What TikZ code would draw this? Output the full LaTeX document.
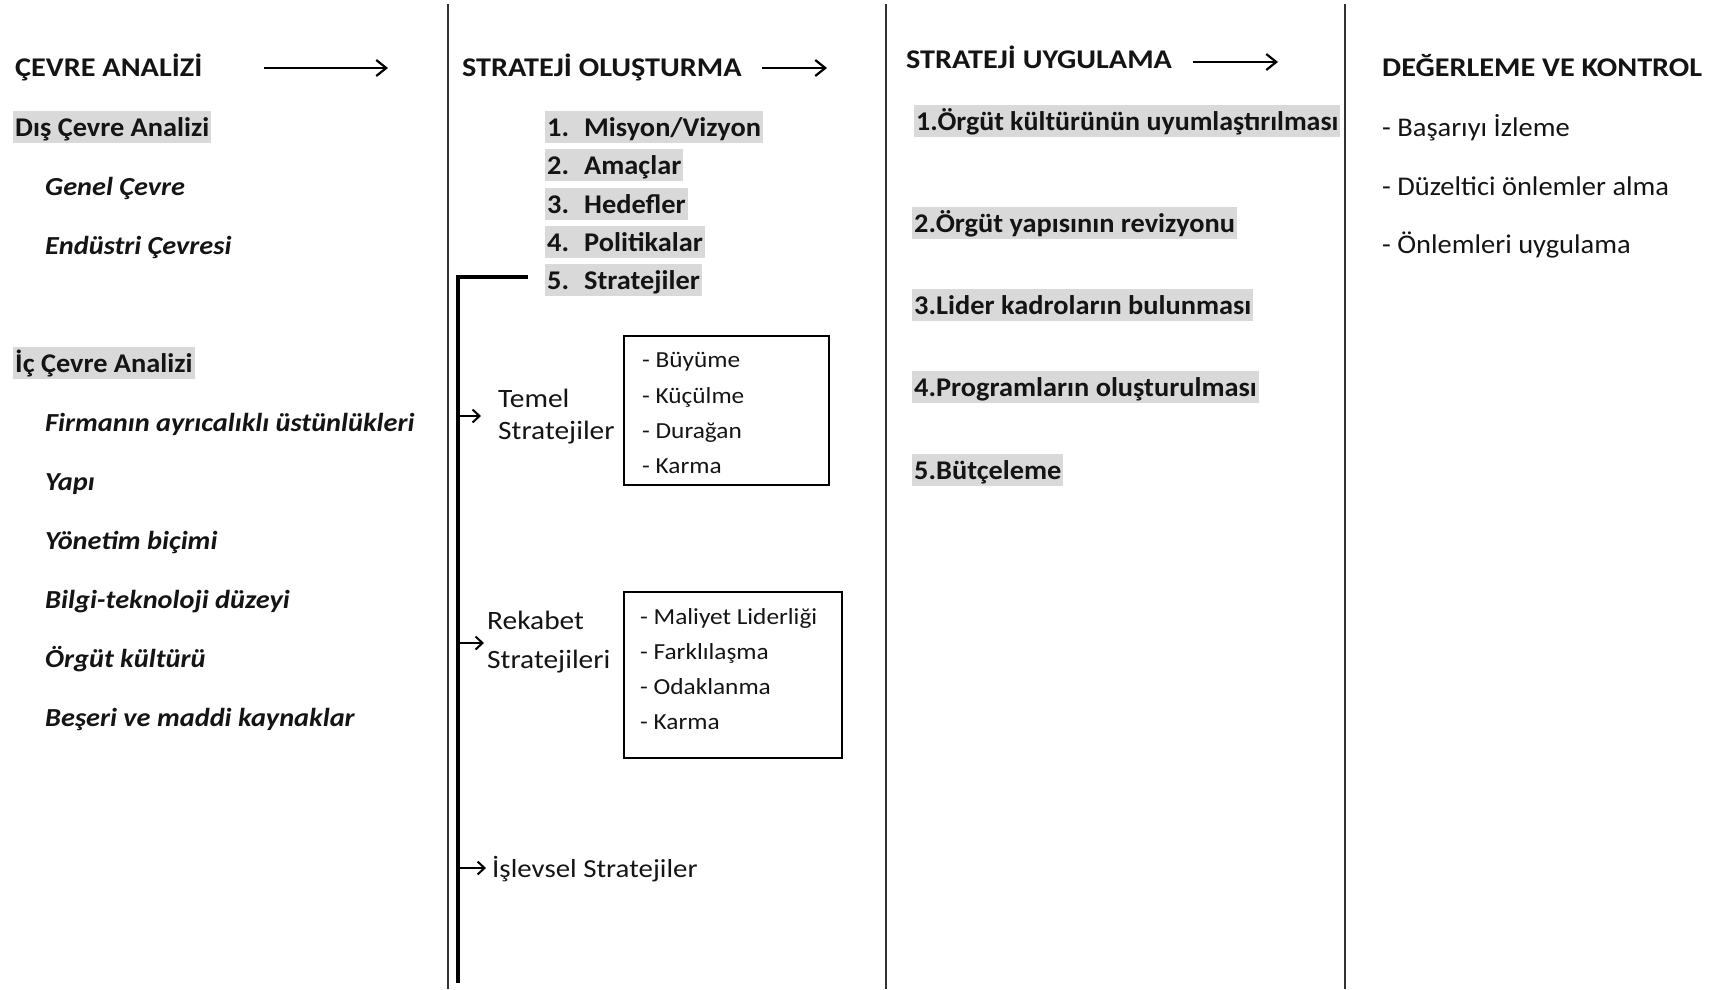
\documentclass[tikz,border=0pt]{standalone}
\usepackage{fontspec}
\setmainfont{Carlito}
% slightly widened faces, one per text role
\newfontfamily\fHead[FakeStretch=1.12]{Carlito}
\newfontfamily\fHl[FakeStretch=1.05]{Carlito}
\newfontfamily\fHlTight[FakeStretch=1.035]{Carlito}
\newfontfamily\fSub[FakeStretch=1.09]{Carlito}
\newfontfamily\fPlain[FakeStretch=1.055]{Carlito}
\newfontfamily\fBox[FakeStretch=1.10]{Carlito}
\newfontfamily\fLab[FakeStretch=1.11]{Carlito}
\usetikzlibrary{arrows.meta}
\definecolor{hl}{RGB}{217,217,217}
\definecolor{rulecol}{RGB}{50,50,50}
\definecolor{txt}{RGB}{20,20,20}

\begin{document}
\begin{tikzpicture}[x=1pt,y=-1pt,
  head/.style={anchor=base west, inner sep=0pt, text=txt, font=\fontsize{27}{32}\fHead\bfseries},
  hlitem/.style={anchor=base west, fill=hl, inner xsep=2pt, inner ysep=0pt,
    text height=25pt, text depth=7pt, text=txt, font=\fontsize{27}{32}\fHl\bfseries},
  subitem/.style={anchor=base west, inner sep=0pt, text=txt, font=\fontsize{26}{30}\fSub\bfseries\itshape},
  plain/.style={anchor=base west, inner sep=0pt, text=txt, font=\fontsize{27}{32}\fPlain},
  label/.style={anchor=base west, inner sep=0pt, text=txt, font=\fontsize{26.5}{30}\fLab},
  boxitem/.style={anchor=base west, inner sep=0pt, text=txt, font=\fontsize{23}{28}\fBox},
  flow/.style={-{Straight Barb[length=10pt,width=16pt,line width=2.2pt]}, line width=2.5pt},
  tick/.style={-{Straight Barb[length=7pt,width=13pt,line width=2pt]}, line width=2pt},
  sep/.style={line width=2pt, draw=rulecol},
  listbox/.style={draw, line width=1.6pt, inner sep=0pt}
]
\useasboundingbox (0,0) rectangle (1715,989);

% column separators
\coordinate (s1t) at (448,4);   \coordinate (s1b) at (448,989);
\coordinate (s2t) at (886,4);   \coordinate (s2b) at (886,989);
\coordinate (s3t) at (1345,4);  \coordinate (s3b) at (1345,989);
\draw[sep] (s1t) -- (s1b);
\draw[sep] (s2t) -- (s2b);
\draw[sep] (s3t) -- (s3b);

% ---- column 1: environment analysis
\node[head] (h1) at (15,76) {ÇEVRE ANALİZİ};
\coordinate (a1s) at (264,68); \coordinate (a1e) at (388,68);
\draw[flow] (a1s) -- (a1e);

\node[hlitem] (dis) at (13,136) {Dış Çevre Analizi};
\node[subitem] (genel) at (45,195) {Genel Çevre};
\node[subitem] (endustri) at (45,254) {Endüstri Çevresi};

\node[hlitem] (ic) at (13,372) {İç Çevre Analizi};
\node[subitem] (firma) at (45,431) {Firmanın ayrıcalıklı üstünlükleri};
\node[subitem] (yapi) at (45,490) {Yapı};
\node[subitem] (yonetim) at (45,549) {Yönetim biçimi};
\node[subitem] (bilgi) at (45,608) {Bilgi-teknoloji düzeyi};
\node[subitem] (orgut) at (45,667) {Örgüt kültürü};
\node[subitem] (beseri) at (45,726) {Beşeri ve maddi kaynaklar};

% ---- column 2: strategy formulation
\node[head] (h2) at (462,76) {STRATEJİ OLUŞTURMA};
\coordinate (a2s) at (762,68); \coordinate (a2e) at (827,68);
\draw[flow] (a2s) -- (a2e);

\node[hlitem] (l1) at (545,136) {\makebox[37pt][l]{1.}Misyon/Vizyon};
\node[hlitem] (l2) at (545,174) {\makebox[37pt][l]{2.}Amaçlar};
\node[hlitem] (l3) at (545,213) {\makebox[37pt][l]{3.}Hedefler};
\node[hlitem] (l4) at (545,251) {\makebox[37pt][l]{4.}Politikalar};
\node[hlitem] (l5) at (545,289) {\makebox[37pt][l]{5.}Stratejiler};

% bracket collecting the strategy levels
\coordinate (btop) at (528,277);
\coordinate (bcorner) at (458,277);
\coordinate (bbot) at (458,983);
\draw[line width=4pt] (btop) -- (bcorner) -- (bbot);

% basic strategies
\node[label] (temel1) at (498,407) {Temel};
\node[label] (temel2) at (498,439) {Stratejiler};
\coordinate (b1) at (458,416); \coordinate (t1) at (481,416);
\draw[tick] (b1) -- (t1);
\node[listbox, minimum width=205pt, minimum height=149pt] (tbox) at (726.5,410.5) {};
\node[boxitem] at (642,367) {- Büyüme};
\node[boxitem] at (642,403) {- Küçülme};
\node[boxitem] at (642,438) {- Durağan};
\node[boxitem] at (642,473) {- Karma};

% competitive strategies
\node[label] (rek1) at (487,629) {Rekabet};
\node[label] (rek2) at (487,668) {Stratejileri};
\coordinate (b2) at (458,643); \coordinate (t2) at (484,643);
\draw[tick] (b2) -- (t2);
\node[listbox, minimum width=218pt, minimum height=166pt] (rbox) at (733,675) {};
\node[boxitem] at (640,624) {- Maliyet Liderliği};
\node[boxitem] at (640,659) {- Farklılaşma};
\node[boxitem] at (640,694) {- Odaklanma};
\node[boxitem] at (640,729) {- Karma};

% functional strategies
\coordinate (b3) at (458,868); \coordinate (t3) at (486,868);
\draw[tick] (b3) -- (t3);
\node[label, font=\fontsize{26}{30}\fLab] (islev) at (492,877) {İşlevsel Stratejiler};

% ---- column 3: strategy implementation
\node[head] (h3) at (906,68) {STRATEJİ UYGULAMA};
\coordinate (a3s) at (1193,62); \coordinate (a3e) at (1278,62);
\draw[flow] (a3s) -- (a3e);

\node[hlitem, font=\fontsize{27}{32}\fHlTight\bfseries] (u1) at (914,130) {1.Örgüt kültürünün uyumlaştırılması};
\node[hlitem] (u2) at (912,232) {2.Örgüt yapısının revizyonu};
\node[hlitem] (u3) at (912,314) {3.Lider kadroların bulunması};
\node[hlitem] (u4) at (912,396) {4.Programların oluşturulması};
\node[hlitem] (u5) at (912,479) {5.Bütçeleme};

% ---- column 4: evaluation and control
\node[head] (h4) at (1382,76) {DEĞERLEME VE KONTROL};
\node[plain] (k1) at (1382,136) {- Başarıyı İzleme};
\node[plain] (k2) at (1382,195) {- Düzeltici önlemler alma};
\node[plain] (k3) at (1382,253) {- Önlemleri uygulama};
\end{tikzpicture}
\end{document}
